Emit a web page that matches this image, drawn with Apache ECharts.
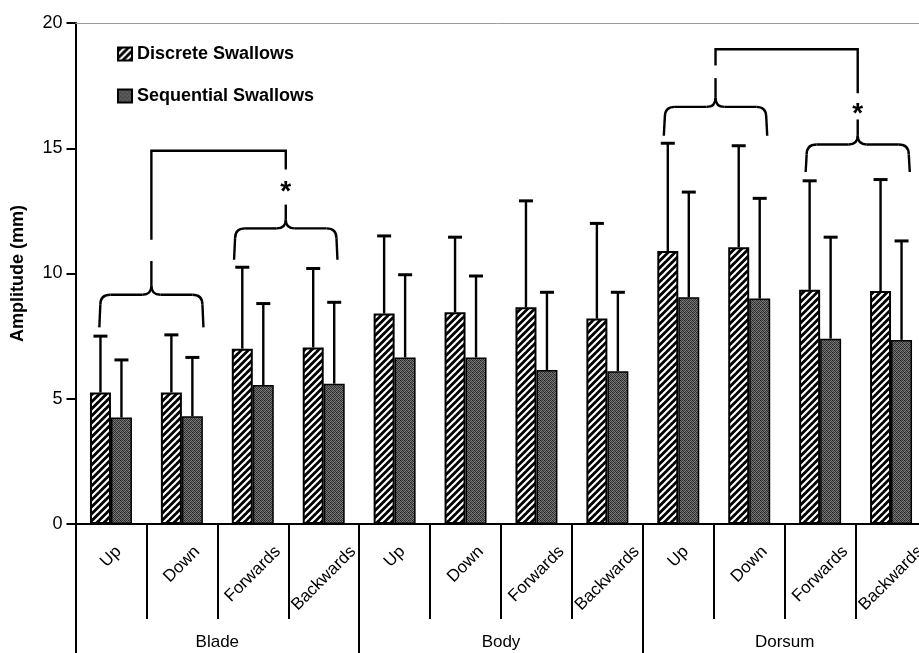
<!DOCTYPE html>
<html><head><meta charset="utf-8">
<script src="https://cdn.jsdelivr.net/npm/echarts@6/dist/echarts.min.js"></script>
<style>html,body{margin:0;padding:0;background:#fff}#c{width:919px;height:653px}</style>
</head><body><div id="c"></div>
<script>
const categories = ['Up','Down','Forwards','Backwards','Up','Down','Forwards','Backwards','Up','Down','Forwards','Backwards'];
const groups = ['Blade','Body','Dorsum'];
const seriesNames = ['Discrete Swallows','Sequential Swallows'];
const discreteMean = [5.25, 5.25, 7.0, 7.05, 8.4, 8.45, 8.65, 8.2, 10.9, 11.05, 9.35, 9.3];
const discreteSD   = [2.25, 2.3, 3.25, 3.15, 3.1, 3.0, 4.25, 3.8, 4.3, 4.05, 4.35, 4.45];
const sequentialMean = [4.25, 4.3, 5.55, 5.6, 6.65, 6.65, 6.15, 6.1, 9.05, 9.0, 7.4, 7.35];
const sequentialSD   = [2.3, 2.35, 3.25, 3.25, 3.3, 3.25, 3.1, 3.15, 4.2, 4.0, 4.05, 3.95];
const yMin = 0, yMax = 20, yStep = 5;
const yTitle = 'Amplitude (mm)';

// significance annotations, in category-index / value units
const braces = [
  {x0: -0.15, x1: 1.29, yE: 7.85, yH: 9.15, yP: 10.5},
  {x0: 1.75, x1: 3.18, yE: 10.55, yH: 11.8, yP: 12.75},
  {x0: 7.81, x1: 9.24, yE: 15.5, yH: 16.65, yP: 17.8},
  {x0: 9.81, x1: 11.25, yE: 14.05, yH: 15.15, yP: 16.15}
];
const brackets = [
  {from: 0, to: 1, yL: 11.35, yTop: 14.9, yR: 14.15, star: 13.45},
  {from: 2, to: 3, yL: 18.3, yTop: 18.95, yR: 17.2, star: 16.55}
];

const FONT = '"Liberation Sans", Arial, sans-serif';

function stripeTile(){
  const s = 7, c = document.createElement('canvas'); c.width = s; c.height = s;
  const g = c.getContext('2d');
  g.fillStyle = '#000'; g.fillRect(0,0,s,s);
  g.strokeStyle = '#fff'; g.lineWidth = 2.1;
  for (const k of [0, s, 2*s]) { g.beginPath(); g.moveTo(k - s - 1, s + 1); g.lineTo(k + 1, -1); g.stroke(); }
  return c;
}
function stippleTile(){
  const vals = [[35,105,55,120],[115,45,130,65],[65,125,40,100],[120,60,110,50]];
  const c = document.createElement('canvas'); c.width = 4; c.height = 4;
  const g = c.getContext('2d'); const img = g.createImageData(4,4);
  for (let y=0;y<4;y++) for (let x=0;x<4;x++){ const o=(y*4+x)*4; const v=vals[y][x]; img.data[o]=v;img.data[o+1]=v;img.data[o+2]=v;img.data[o+3]=255; }
  g.putImageData(img,0,0); return c;
}
const stripe = {image: stripeTile(), repeat: 'repeat'};
const stipple = {image: stippleTile(), repeat: 'repeat'};

function errRender(side){
  return function(params, api){
    const i = api.value(0);
    const p0 = api.coord([i, api.value(1)]);
    const p1 = api.coord([i, api.value(2)]);
    const band = api.size([1, 0])[0];
    const x = p0[0] + side * band * 0.148;
    return {type: 'group', children: [
      {type: 'line', shape: {x1: x, y1: p0[1], x2: x, y2: p1[1]}, style: {stroke: '#000', lineWidth: 2.4}},
      {type: 'line', shape: {x1: x - 7, y1: p1[1], x2: x + 7, y2: p1[1]}, style: {stroke: '#000', lineWidth: 3}}
    ]};
  };
}

const chart = echarts.init(document.getElementById('c'), null, {renderer: 'canvas'});
chart.setOption({
  animation: false,
  backgroundColor: '#fff',
  textStyle: {fontFamily: FONT, color: '#000'},
  grid: {left: 75.5, width: 851, top: 23, bottom: 129, containLabel: false, outerBoundsMode: 'none'},
  legend: {
    data: seriesNames, orient: 'vertical', left: 112, top: 40, icon: 'rect',
    itemWidth: 14, itemHeight: 13, itemGap: 24,
    textStyle: {fontFamily: FONT, fontSize: 18, fontWeight: 'bold', color: '#000'},
    selectedMode: false
  },
  xAxis: [
    {type: 'category', data: categories, position: 'bottom',
     axisLine: {lineStyle: {color: '#000', width: 2}},
     axisTick: {show: true, interval: 0, length: 95, lineStyle: {color: '#000', width: 2}},
     axisLabel: {show: false}},
    {type: 'category', data: groups, position: 'bottom',
     axisLine: {show: false},
     axisTick: {show: true, interval: 0, length: 130, lineStyle: {color: '#000', width: 2}},
     axisLabel: {show: true, margin: 110, fontSize: 17, color: '#000', fontFamily: FONT}},
    {type: 'category', data: categories, position: 'top',
     axisLine: {lineStyle: {color: '#999', width: 1}},
     axisTick: {show: false}, axisLabel: {show: false}}
  ],
  yAxis: {
    type: 'value', min: yMin, max: yMax, interval: yStep,
    name: yTitle, nameLocation: 'middle', nameGap: 48, nameRotate: 90,
    nameTextStyle: {fontSize: 18, fontWeight: 'bold', color: '#000', fontFamily: FONT},
    axisLine: {show: true, lineStyle: {color: '#000', width: 2}},
    axisTick: {show: true, length: 9, lineStyle: {color: '#000', width: 2}},
    axisLabel: {fontSize: 18, color: '#000', margin: 13, fontFamily: FONT},
    splitLine: {show: false}
  },
  series: [
    {name: seriesNames[0], type: 'bar', data: discreteMean, barWidth: '29.6%', barGap: '0%',
     itemStyle: {color: stripe, borderColor: '#000', borderWidth: 2}},
    {name: seriesNames[1], type: 'bar', data: sequentialMean, barWidth: '29.6%', barGap: '0%',
     itemStyle: {color: stipple, borderColor: '#000', borderWidth: 1.5}},
    {type: 'custom', name: 'errD', renderItem: errRender(-1), z: 5,
     data: categories.map((c, i) => [i, discreteMean[i], discreteMean[i] + discreteSD[i]])},
    {type: 'custom', name: 'errS', renderItem: errRender(1), z: 5,
     data: categories.map((c, i) => [i, sequentialMean[i], sequentialMean[i] + sequentialSD[i]])}
  ]
});

// annotations and rotated category labels, positioned through the chart's own scales
const px0 = chart.convertToPixel({xAxisIndex: 0}, 0);
const band = chart.convertToPixel({xAxisIndex: 0}, 1) - px0;
const X = f => px0 + f * band;
const Y = v => chart.convertToPixel({yAxisIndex: 0}, v);
const y0 = Y(0);
const gfx = [];
const ST = {stroke: '#000', lineWidth: 2.4, fill: null};
const LABEL_SIZE = 17;
const mctx = document.createElement('canvas').getContext('2d');
mctx.font = LABEL_SIZE + 'px ' + FONT;
categories.forEach((lab, i) => {
  const L = mctx.measureText(lab).width, h = LABEL_SIZE;
  const cy = y0 + 19 + (L + h) / 2 * 0.7071;
  gfx.push({type: 'text', x: X(i), y: cy, rotation: Math.PI / 4,
    style: {text: lab, fontSize: LABEL_SIZE, fontFamily: FONT, fill: '#000', align: 'center', verticalAlign: 'middle'}});
});
function brace(b){
  const x0 = X(b.x0), x1 = X(b.x1), xm = (x0 + x1) / 2, yE = Y(b.yE), yH = Y(b.yH), yP = Y(b.yP);
  const r = 10, c = 9;
  gfx.push({type: 'polyline', shape: {points: [[x0 - 1, yE], [x0, yH + r]]}, style: ST});
  gfx.push({type: 'bezierCurve', shape: {x1: x0, y1: yH + r, cpx1: x0, cpy1: yH, x2: x0 + r, y2: yH}, style: ST});
  gfx.push({type: 'polyline', shape: {points: [[x0 + r, yH], [xm - c, yH]]}, style: ST});
  gfx.push({type: 'bezierCurve', shape: {x1: xm - c, y1: yH, cpx1: xm, cpy1: yH, x2: xm, y2: yH - c}, style: ST});
  gfx.push({type: 'polyline', shape: {points: [[xm, yH - c], [xm, yP]]}, style: ST});
  gfx.push({type: 'bezierCurve', shape: {x1: xm + c, y1: yH, cpx1: xm, cpy1: yH, x2: xm, y2: yH - c}, style: ST});
  gfx.push({type: 'polyline', shape: {points: [[xm + c, yH], [x1 - r, yH]]}, style: ST});
  gfx.push({type: 'bezierCurve', shape: {x1: x1 - r, y1: yH, cpx1: x1, cpy1: yH, x2: x1, y2: yH + r}, style: ST});
  gfx.push({type: 'polyline', shape: {points: [[x1, yH + r], [x1 + 1, yE]]}, style: ST});
  return xm;
}
const mids = braces.map(brace);
brackets.forEach(k => {
  const xl = mids[k.from], xr = mids[k.to];
  gfx.push({type: 'polyline', shape: {points: [[xl, Y(k.yL)], [xl, Y(k.yTop)], [xr, Y(k.yTop)], [xr, Y(k.yR)]]}, style: ST});
  gfx.push({type: 'text', x: xr, y: Y(k.star) + 5, style: {text: '*', fontSize: 28, fontWeight: 'bold', fontFamily: FONT, fill: '#000', align: 'center', verticalAlign: 'middle'}});
});
chart.setOption({graphic: gfx});
</script></body></html>
